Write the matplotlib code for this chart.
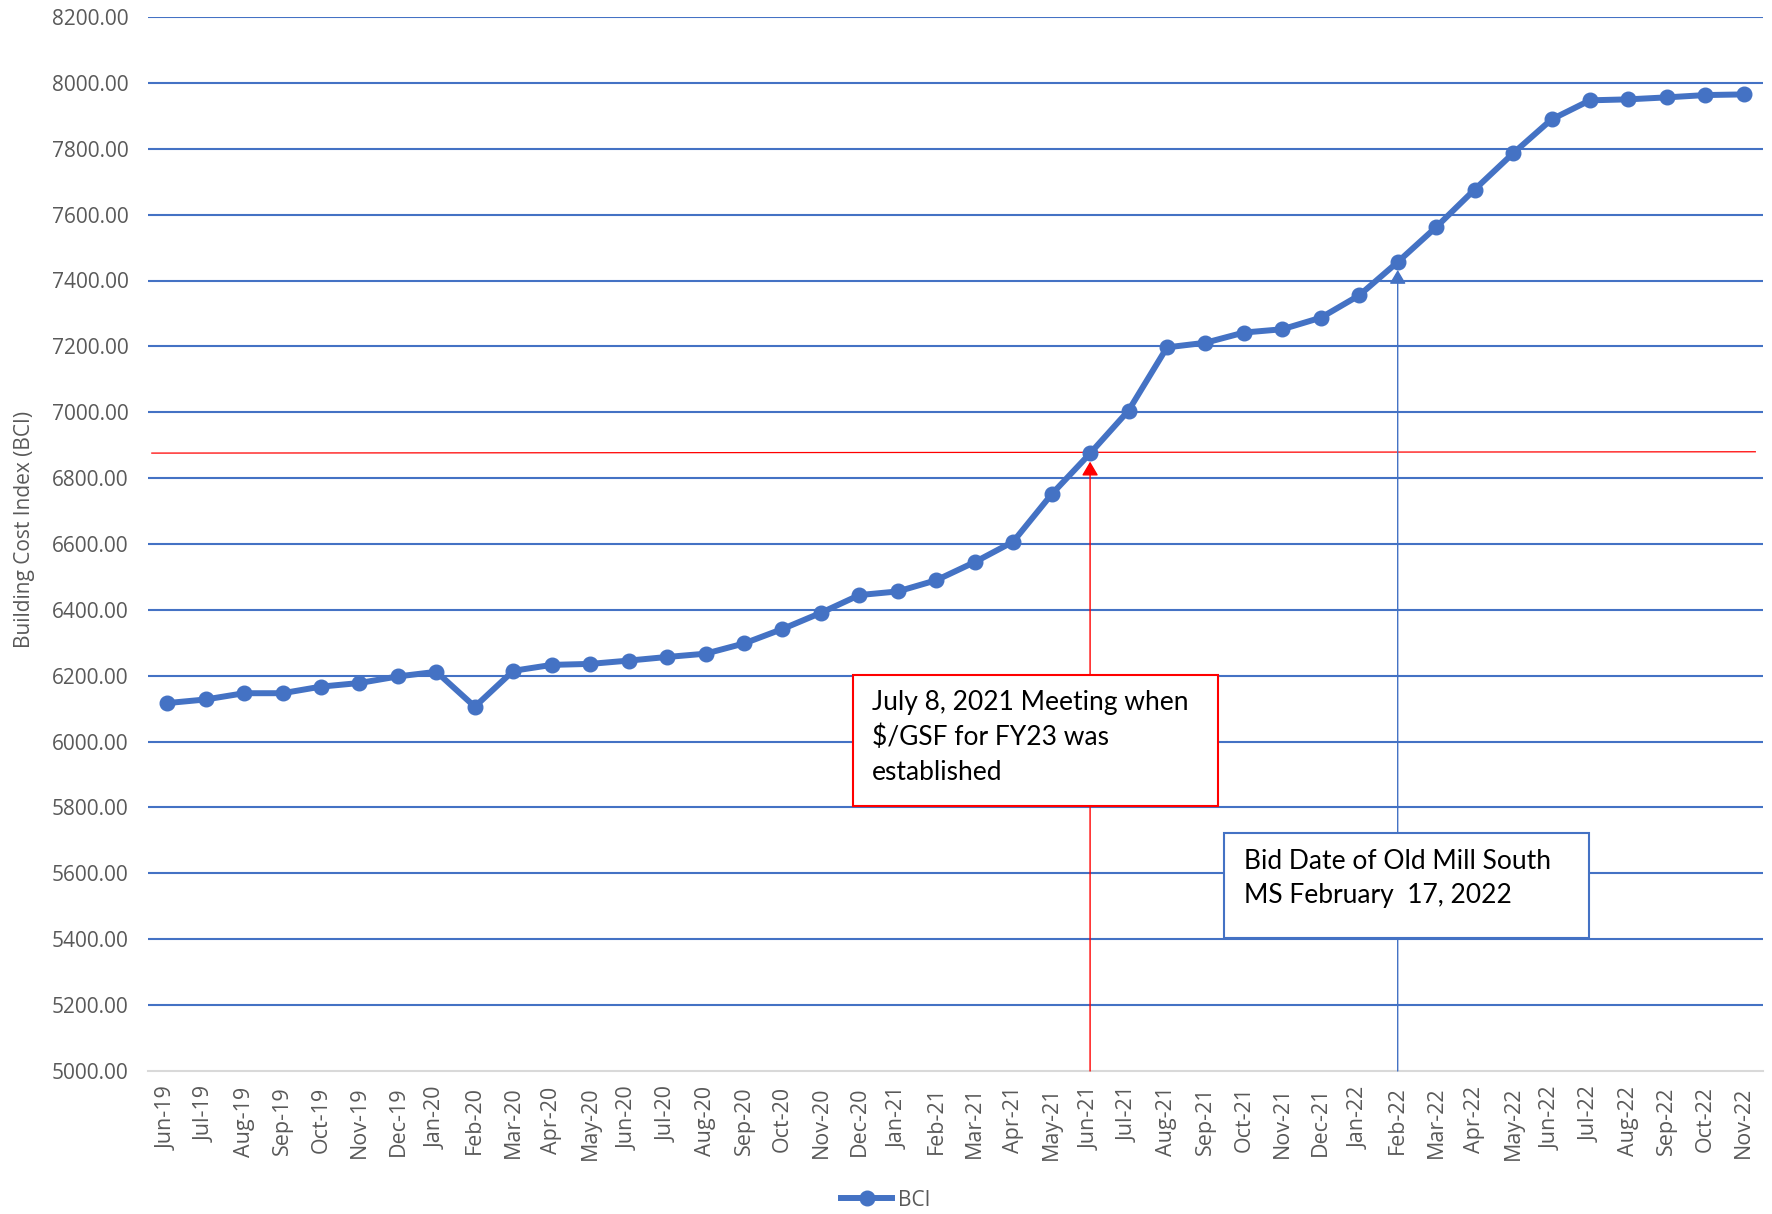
import matplotlib
matplotlib.use("Agg")
import matplotlib.pyplot as plt
from matplotlib.patches import Rectangle

months = ["Jun-19", "Jul-19", "Aug-19", "Sep-19", "Oct-19", "Nov-19", "Dec-19",
          "Jan-20", "Feb-20", "Mar-20", "Apr-20", "May-20", "Jun-20", "Jul-20",
          "Aug-20", "Sep-20", "Oct-20", "Nov-20", "Dec-20", "Jan-21", "Feb-21",
          "Mar-21", "Apr-21", "May-21", "Jun-21", "Jul-21", "Aug-21", "Sep-21",
          "Oct-21", "Nov-21", "Dec-21", "Jan-22", "Feb-22", "Mar-22", "Apr-22",
          "May-22", "Jun-22", "Jul-22", "Aug-22", "Sep-22", "Oct-22", "Nov-22"]
bci = [6117, 6128, 6147, 6147, 6167, 6178, 6198, 6212, 6106, 6215, 6233, 6236,
       6246, 6257, 6267, 6298, 6342, 6391, 6445, 6456, 6490, 6545, 6607, 6751,
       6875, 7005, 7197, 7211, 7242, 7252, 7287, 7355, 7456, 7562, 7676, 7786,
       7889, 7947, 7950, 7956, 7963, 7965]
y_ticks = [5000, 5200, 5400, 5600, 5800, 6000, 6200, 6400, 6600, 6800,
           7000, 7200, 7400, 7600, 7800, 8000, 8200]

ref_level = 6877          # red reference line (Jun-21 value)
meeting_month = "Jun-21"
bid_month = "Feb-22"
meeting_tip = 6850
bid_tip = 7432
meeting_text = "July 8, 2021 Meeting when\n$/GSF for FY23 was\nestablished"
bid_text = "Bid Date of Old Mill South\nMS February  17, 2022"

BLUE = "#4472C4"
GRAY = "#595959"

fig = plt.figure(figsize=(17.72, 12.14), dpi=100)
ax = fig.add_axes([148/1772, 1-1071/1214, (1763-148)/1772, (1071-17)/1214])

x = list(range(len(months)))
ax.set_xlim(-0.5, len(months) - 0.5)
ax.set_ylim(5000, 8200)
ax.set_yticks(y_ticks)
ax.set_yticklabels([f"{v:.2f}" for v in y_ticks], fontsize=15, color=GRAY,
                   family="Open Sans")
ax.set_xticks(x)
ax.set_xticklabels(months, rotation=90, fontsize=15.5, color=GRAY, family="Open Sans")
ax.tick_params(axis="both", length=0)
ax.tick_params(axis="x", pad=11)
ax.tick_params(axis="y", pad=14)

for v in y_ticks[1:]:
    ax.axhline(v, color=BLUE, lw=1.5, zorder=1)
for s in ["top", "right", "left"]:
    ax.spines[s].set_visible(False)
ax.spines["bottom"].set_color("#D9D9D9")
ax.spines["bottom"].set_linewidth(1.5)

ax.set_ylabel("Building Cost Index (BCI)", fontsize=15, color=GRAY,
              family="Open Sans")
ax.yaxis.set_label_coords(-0.070, 0.514)

# red reference line
ax.plot([-0.4, len(months) - 0.7], [ref_level - 1, ref_level + 3], color="red",
        lw=0.9, zorder=2)

mi = months.index(meeting_month)
bi = months.index(bid_month)
ax.annotate("", xy=(mi, meeting_tip), xytext=(mi, 5000),
            arrowprops=dict(arrowstyle="-|>,head_length=0.85,head_width=0.5",
                            color="red", lw=1.0, shrinkA=0, shrinkB=0),
            zorder=3, annotation_clip=False)
ax.annotate("", xy=(bi, bid_tip), xytext=(bi, 5000),
            arrowprops=dict(arrowstyle="-|>,head_length=0.85,head_width=0.5",
                            color=BLUE, lw=1.0, shrinkA=0, shrinkB=0),
            zorder=3, annotation_clip=False)

# data line
line, = ax.plot(x, bci, color=BLUE, lw=4.3, marker="o", markersize=10.5,
                zorder=5, clip_on=False, label="BCI")

# boxes
ax.add_patch(Rectangle((17.84, 5805), 27.33 - 17.84, 6203 - 5805,
                       facecolor="white", edgecolor="red", lw=1.5, zorder=6))
ax.text(18.33, 6156, meeting_text, fontsize=19, family="Lato", va="top",
        ha="left", linespacing=1.47, zorder=7, color="black")
ax.add_patch(Rectangle((27.48, 5404), 36.98 - 27.48, 5723 - 5404,
                       facecolor="white", edgecolor=BLUE, lw=1.5, zorder=6))
ax.text(28.0, 5674, bid_text, fontsize=19, family="Lato", va="top",
        ha="left", linespacing=1.47, zorder=7, color="black")

leg = fig.legend(handles=[line], loc="center", bbox_to_anchor=(0.5, 14/1214),
                 frameon=False, handlelength=2.45, handletextpad=0.3,
                 borderpad=0, prop={"family": "Open Sans", "size": 15})
for t in leg.get_texts():
    t.set_color(GRAY)

fig.savefig("out.png", dpi=100)
